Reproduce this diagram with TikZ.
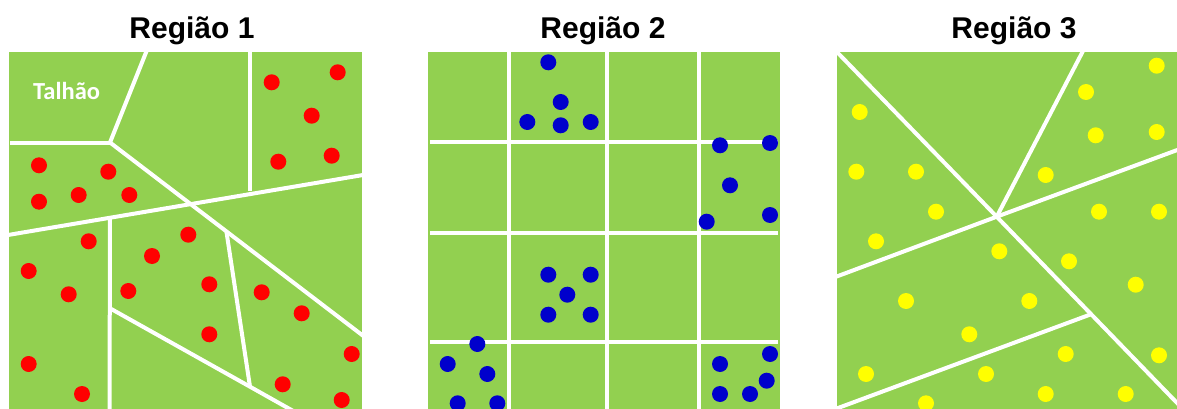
\documentclass[tikz,border=0pt]{standalone}
\usepackage{fontspec}
\setmainfont{Liberation Sans}
\newfontfamily\talfont{Carlito}
\definecolor{field}{HTML}{92D050}
\definecolor{dotred}{HTML}{FF0000}
\definecolor{dotblue}{HTML}{0000CC}
\definecolor{dotyellow}{HTML}{FFFF00}
\tikzset{
  fieldbox/.style={fill=field, draw=none},
  border/.style={draw=white, line width=4pt},
  reddot/.style={fill=dotred, draw=none},
  bluedot/.style={fill=dotblue, draw=none},
  yellowdot/.style={fill=dotyellow, draw=none},
  titletext/.style={font=\bfseries\fontsize{30}{30}\selectfont, anchor=base, inner sep=0pt},
}
\begin{document}
\begin{tikzpicture}[x=1pt,y=-1pt]
\useasboundingbox (0,0) rectangle (1177,409);
% ---------- titles
\node[titletext] (t1) at (192,39) {Região 1};
\node[titletext] (t2) at (603,39) {Região 2};
\node[titletext] (t3) at (1014,39) {Região 3};
% ---------- Region 1
\fill[fieldbox] (9,52) rectangle (362,409);
\begin{scope}
\clip (9,52) rectangle (362,409);
\coordinate (a1) at (110,142.5);
\draw[border] (147,50) -- (a1);
\draw[border] (10,142.5) -- (a1);
\draw[border] (a1) -- (366,338);
\draw[border] (250,50) -- (250,191);
\draw[border] (8,235) -- (366,174.5);
\draw[border] (110,217) -- (109.5,412);
\draw[border] (226.5,232) -- (250,386.7);
\draw[border] (110,308.3) -- (250,386.7) -- (295,412);
\end{scope}
\node[font=\talfont\bfseries\fontsize{24.5}{24.5}\selectfont, text=white, anchor=base west, inner sep=0pt] (tal) at (33,100) {Talhão};
\foreach \p in {(271.7,82.3),(337.7,72.3),(311.7,115.7),(278.3,161.7),(331.7,155.7),
  (39,165.3),(108.3,171.7),(39,201.7),(78.7,195),(129.3,195),
  (88.7,241.3),(28.7,271),(68.7,294.3),(28.7,364),(82,394),
  (188.3,234.7),(152,256),(128.3,291),(209.3,284.3),(209.3,334.3),
  (261.7,292.3),(301.7,313.3),(351.7,354),(282.7,384.3),(341.7,400)}
  \fill[reddot] \p circle (8);
% ---------- Region 2
\fill[fieldbox] (428,52) rectangle (780,409);
\begin{scope}
\clip (428,52) rectangle (780,409);
\foreach \xx in {509,607.3,698.7} \draw[border] (\xx,50) -- (\xx,412);
\foreach \yy in {141.7,233.3,342} \draw[border] (430,\yy) -- (778,\yy);
\end{scope}
\foreach \p in {(548.3,62.3),(560.7,102),(527.3,122),(560.7,125.3),(590.7,122),
  (720,145.3),(770,143),(730,185.3),(706.7,221.7),(770,215),
  (548.3,274.7),(590.7,274.7),(567.3,294.7),(548.3,314.7),(590.7,314.7),
  (477.3,344),(447.7,364),(487.3,374),(457.7,403.3),(497.3,403.3),
  (770,354),(720,364),(766.7,380.7),(720,394),(750,394)}
  \fill[bluedot] \p circle (8);
% ---------- Region 3
\fill[fieldbox] (837,52) rectangle (1177,409);
\begin{scope}
\clip (837,52) rectangle (1177,409);
\coordinate (c3) at (996.7,216.7);
\coordinate (d3) at (1091.7,314);
\draw[border] (835,50) -- (c3) -- (1180,406);
\draw[border] (1083.5,50) -- (c3);
\draw[border] (834,277.5) -- (c3) -- (1180,149);
\draw[border] (d3) -- (834,409.5);
\end{scope}
\foreach \p in {(1156.7,65.7),(1086,92),(1095.7,135.3),(1156.7,132),(1045.7,175),
  (859.7,112),(856.3,171.7),(916,171.7),(936,211.7),(876,241.3),
  (1099,211.7),(1159,211.7),(1069,261.3),(1135.7,284.7),(1159,355.3),
  (999.3,251.3),(906,301),(1029.3,301),(969.3,334.3),
  (1065.7,354),(866,374),(986,374),(1045.7,394),(1125.7,394),(926,403.3)}
  \fill[yellowdot] \p circle (8);
\end{tikzpicture}
\end{document}
